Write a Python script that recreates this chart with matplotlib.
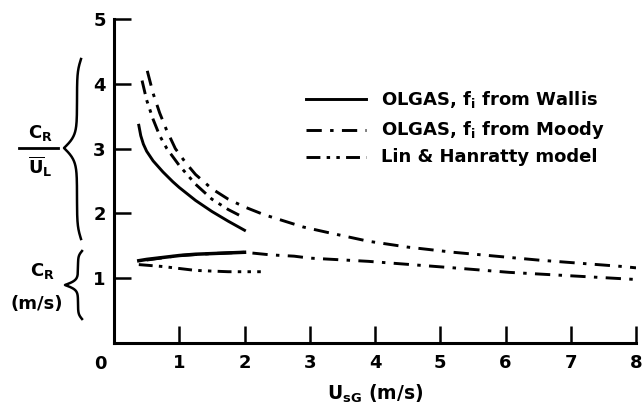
import numpy as np
import matplotlib
matplotlib.use("Agg")
import matplotlib.pyplot as plt
from matplotlib.lines import Line2D

plt.rcParams['font.family'] = ['DejaVu Sans']
plt.rcParams['font.weight'] = 'bold'
plt.rcParams['mathtext.fontset'] = 'custom'
plt.rcParams['mathtext.rm'] = 'DejaVu Sans:bold'
plt.rcParams['mathtext.it'] = 'DejaVu Sans:bold'
plt.rcParams['mathtext.bf'] = 'DejaVu Sans:bold'
plt.rcParams['lines.scale_dashes'] = False

# upper group: C_R / U_L
wallis_x = [0.38, 0.41, 0.45, 0.5, 0.6, 0.75, 0.9, 1.0, 1.25, 1.5, 1.75, 2.0]
wallis_ratio = [3.36, 3.20, 3.07, 2.96, 2.81, 2.64, 2.49, 2.40, 2.20, 2.03, 1.88, 1.74]
moody_x = [0.51, 0.6, 0.7, 0.8, 0.94, 1.1, 1.25, 1.5, 1.75, 2.0, 2.3, 2.9, 3.3, 3.9,
           4.5, 5.2, 6.5, 7.8, 8.0]
moody_ratio = [4.2, 3.85, 3.55, 3.3, 3.0, 2.78, 2.6, 2.38, 2.22, 2.1, 1.98, 1.79, 1.70,
               1.57, 1.48, 1.40, 1.28, 1.18, 1.16]
lh_x = [0.43, 0.5, 0.6, 0.7, 0.81, 1.0, 1.25, 1.5, 1.75, 2.0]
lh_ratio = [4.05, 3.75, 3.45, 3.2, 3.0, 2.74, 2.45, 2.22, 2.06, 1.93]

# lower group: C_R (m/s)
wallis_cr_x = [0.38, 0.5, 0.75, 1.0, 1.25, 1.5, 1.75, 2.0]
wallis_cr = [1.27, 1.29, 1.32, 1.35, 1.37, 1.38, 1.39, 1.40]
moody_cr_x = [0.5, 1.0, 1.5, 2.0, 2.4, 2.76, 3.0, 3.9, 5.2, 6.06, 7.3, 8.0]
moody_cr = [1.28, 1.35, 1.38, 1.40, 1.36, 1.34, 1.31, 1.26, 1.16, 1.09, 1.02, 0.98]
lh_cr_x = [0.38, 0.75, 1.0, 1.25, 1.5, 1.75, 2.0, 2.25]
lh_cr = [1.21, 1.18, 1.15, 1.12, 1.11, 1.10, 1.10, 1.10]

labels = ['OLGAS, f$_\\mathregular{i}$ from Wallis',
          'OLGAS, f$_\\mathregular{i}$ from Moody',
          'Lin & Hanratty model']
xticks = [1, 2, 3, 4, 5, 6, 7, 8]
yticks = [1, 2, 3, 4, 5]

W, H = 644, 408
fig = plt.figure(figsize=(6.44, 4.08), dpi=100)
ax = fig.add_axes([114 / W, 1 - 343 / H, (636 - 114) / W, (343 - 19) / H])

lw = 2.1
dash_moody = (11, 6, 2.5, 6)
dash_lh = (10, 4.5, 2.5, 4.5, 2.5, 4.5)
styles = [dict(), dict(dashes=dash_moody), dict(dashes=dash_lh)]

ax.plot(wallis_x, wallis_ratio, color='black', lw=lw, **styles[0])
ax.plot(moody_x, moody_ratio, color='black', lw=lw, **styles[1])
ax.plot(lh_x, lh_ratio, color='black', lw=lw, **styles[2])
ax.plot(wallis_cr_x, wallis_cr, color='black', lw=lw + 0.4, **styles[0])
ax.plot(moody_cr_x, moody_cr, color='black', lw=lw, **styles[1])
ax.plot(lh_cr_x, lh_cr, color='black', lw=lw, **styles[2])

ax.set_xlim(0, 8)
ax.set_ylim(0, 5)
ax.spines['top'].set_visible(False)
ax.spines['right'].set_visible(False)
ax.spines['left'].set_linewidth(2.2)
ax.spines['bottom'].set_linewidth(2.2)
ax.set_xticks(xticks)
ax.set_yticks(yticks)
ax.tick_params(direction='in', length=12, width=1.8, labelsize=13)
ax.tick_params(axis='x', pad=8)
ax.tick_params(axis='y', pad=6)
fig.text(100 / W, 1 - 364 / H, '0', fontsize=13, ha='center', va='center')
fig.text(375 / W, 1 - 394 / H, 'U$_\\mathregular{sG}$ (m/s)', fontsize=13.5,
         ha='center', va='center')

# legend, drawn by hand
for i, (lab, st) in enumerate(zip(labels, styles)):
    yy = 1 - [99, 130, 157][i] / H
    fig.add_artist(Line2D([306 / W, 366 / W], [yy, yy], color='black', lw=lw,
                          transform=fig.transFigure, **st))
    fig.text(381 / W, yy, lab, fontsize=13, ha='left', va='center')


def brace(y_top, y_bot, y_tip, xc, end_w, tip_w):
    # left-pointing curly brace in pixel coords, converted to figure coords
    n = 200
    def half(a, b):
        t = np.linspace(0, 1, n)
        beta = 14.0
        v = 1 / (1 + np.exp(-beta * t)) + 1 / (1 + np.exp(-beta * (t - 1)))
        y = a + (b - a) * t
        return v, y
    v1, y1 = half(y_top, y_tip)
    v2, y2 = half(y_bot, y_tip)
    v = np.concatenate([v1, v2[::-1]])
    y = np.concatenate([y1, y2[::-1]])
    x = np.where(v < 1, xc + (1 - v) * 2 * end_w, xc - (v - 1) * 2 * tip_w)
    fig.add_artist(Line2D(x / W, 1 - y / H, color='black', lw=1.8,
                          transform=fig.transFigure))


brace(59, 239, 148, 77, 4, 13)
brace(251, 319, 285, 78, 4, 13)

# left-hand labels
fig.text(40 / W, 1 - 133 / H, 'C$_\\mathregular{R}$', fontsize=13,
         ha='center', va='center')
fig.add_artist(Line2D([19 / W, 58 / W], [1 - 148 / H, 1 - 148 / H], color='black',
                      lw=2, transform=fig.transFigure))
fig.text(40 / W, 1 - 167 / H, '$\\mathregular{\\overline{U}_L}$', fontsize=13,
         ha='center', va='center')
fig.text(42 / W, 1 - 271 / H, 'C$_\\mathregular{R}$', fontsize=13,
         ha='center', va='center')
fig.text(37 / W, 1 - 304 / H, '(m/s)', fontsize=13, ha='center', va='center')

fig.savefig('out.png', dpi=100)
